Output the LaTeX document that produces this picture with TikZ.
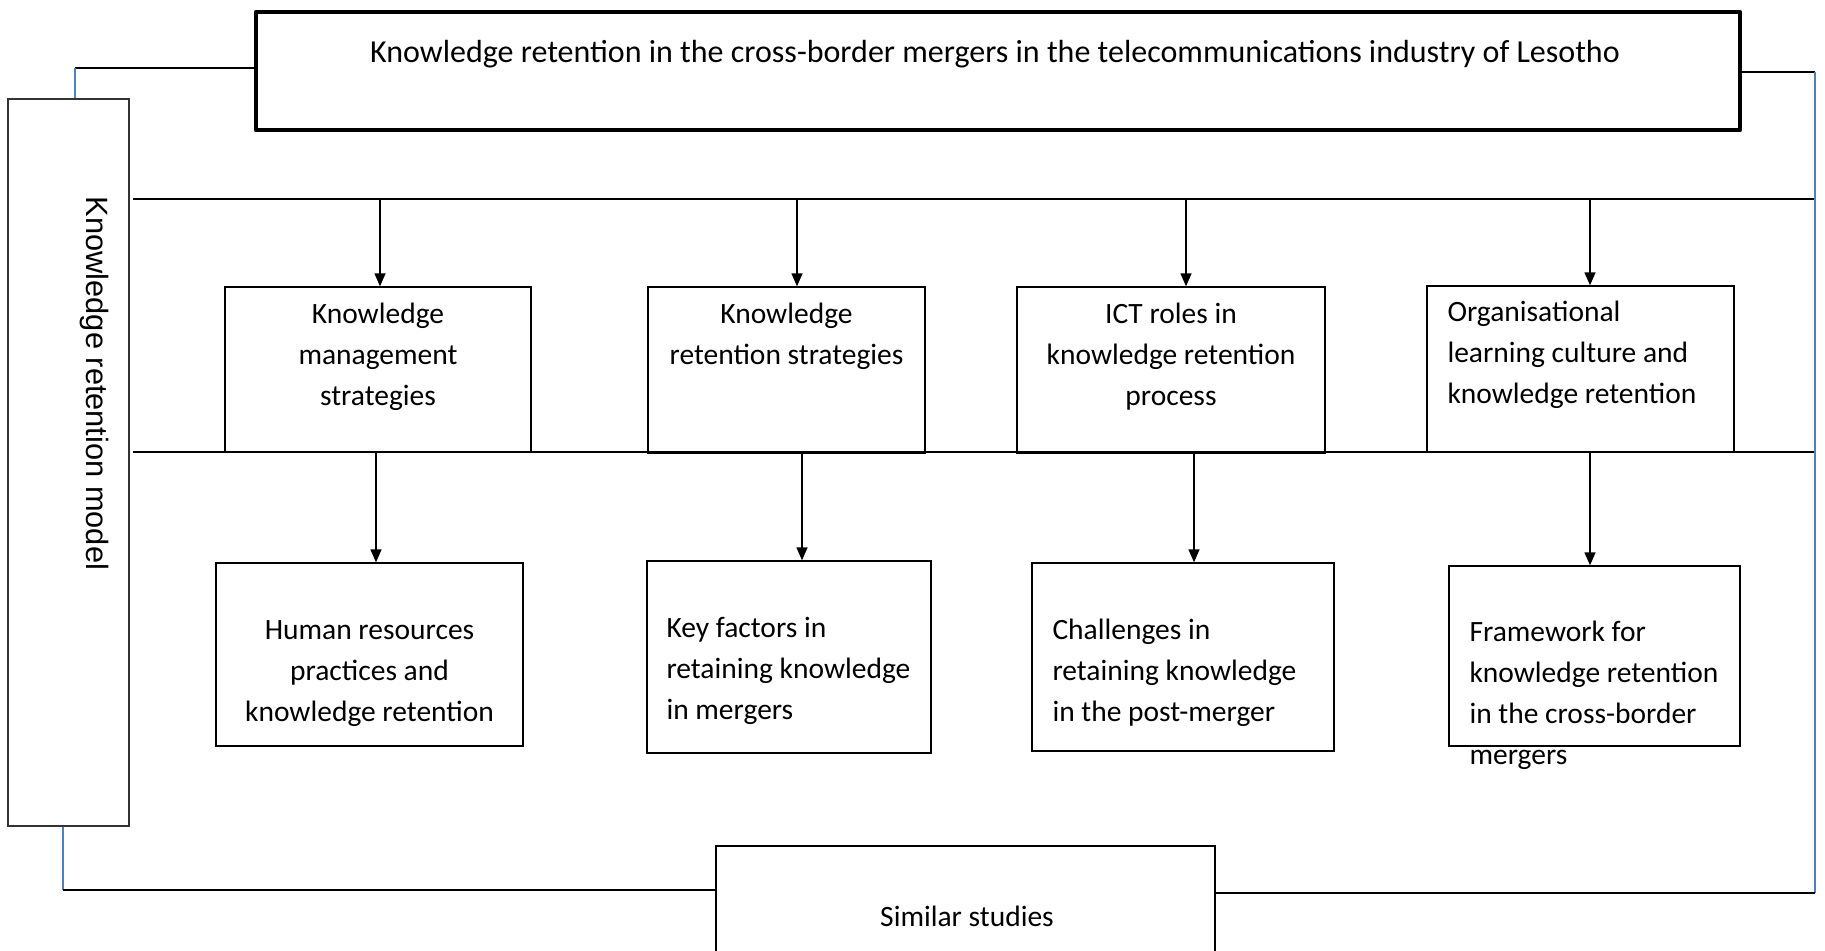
\documentclass[tikz,border=0pt]{standalone}
\usepackage{fontspec}
\setmainfont{Carlito}
\newfontfamily\sidefont{Liberation Sans}
\usetikzlibrary{arrows.meta,positioning}
\definecolor{linkblue}{RGB}{79,129,189}
\tikzset{
  box/.style={draw,line width=1.4pt,inner sep=0pt},
  txt/.style={font=\fontsize{29.5}{41}\selectfont,inner sep=0pt},
  bus/.style={line width=1.4pt},
  link/.style={line width=1.5pt,draw=linkblue},
}
\begin{document}
\begin{tikzpicture}[>={Triangle[length=13pt,width=11pt]},x=1pt,y=-1pt]
\useasboundingbox (0,0) rectangle (1825,950);
\clip (0,0) rectangle (1825,950);
% top, side and bottom boxes
\node[box,line width=4.5pt,line join=round,minimum width=1484pt,minimum height=118pt] (title) at (998,71) {};
\node[txt,font=\fontsize{32}{41}\selectfont] (titletxt) at (995,54) {Knowledge retention in the cross-border mergers in the telecommunications industry of Lesotho};
\node[box,draw=black!80,minimum width=121pt,minimum height=727pt] (krm) at (68.5,462.5) {};
\node[txt,font=\sidefont\fontsize{30.8}{41}\selectfont,rotate=-90] (krmtxt) at (94,383.5) {Knowledge retention model};
\node[box,minimum width=499pt,minimum height=144pt] (sim) at (965.5,918) {};
\node[txt] (simtxt) at (967,916) {Similar studies};
% first row
\node[box,minimum width=306pt,minimum height=165pt] (kms) at (378,369.5) {};
\node[box,minimum width=277pt,minimum height=166pt] (krs) at (786.5,370) {};
\node[box,minimum width=308pt,minimum height=166pt] (ict) at (1171,370) {};
\node[box,minimum width=307pt,minimum height=166pt] (olc) at (1580.5,369) {};
\node[txt,align=center,below=17pt of kms.north] (kmstxt) {Knowledge\\management\\strategies};
\node[txt,align=center,below=17pt of krs.north] (krstxt) {Knowledge\\retention strategies};
\node[txt,align=center,below=17pt of ict.north] (icttxt) {ICT roles in\\knowledge retention\\process};
\node[txt,align=left,below right=16pt and 21pt of olc.north west] (olctxt) {Organisational\\learning culture and\\knowledge retention};
% second row
\node[box,minimum width=307pt,minimum height=183pt] (hrp) at (369.5,654.5) {};
\node[box,minimum width=284pt,minimum height=192pt] (kfr) at (789,657) {};
\node[box,minimum width=302pt,minimum height=188pt] (crk) at (1183,657) {};
\node[box,minimum width=291pt,minimum height=180pt] (fkr) at (1594.5,656) {};
\node[txt,align=center,below=58pt of hrp.north] (hrptxt) {Human resources\\practices and\\knowledge retention};
\node[txt,align=left,below right=57pt and 20pt of kfr.north west] (kfrtxt) {Key factors in\\retaining knowledge\\in mergers};
\node[txt,align=left,below right=57pt and 21pt of crk.north west] (crktxt) {Challenges in\\retaining knowledge\\in the post-merger};
\node[txt,align=left,below right=56pt and 21pt of fkr.north west] (fkrtxt) {Framework for\\knowledge retention\\in the cross-border\\mergers};
% bus lines and arrows
\coordinate (ul) at (133,199); \coordinate (ur) at (1815,199);
\coordinate (ll) at (133,452); \coordinate (lr) at (1815,452);
\draw[bus] (ul) -- (ur);
\draw[bus] (ll) -- (lr);
\foreach \x/\b in {380/kms,797/krs,1186/ict,1590/olc}
  \draw[bus,->] (\x,199) -- (\x,199 |- \b.north);
\foreach \x/\b in {376/hrp,802/kfr,1194/crk,1590/fkr}
  \draw[bus,->] (\x,452) -- (\x,452 |- \b.north);
% outer connectors
\coordinate (tl) at (75,68);
\coordinate (tr) at (1815,72);
\coordinate (br) at (1815,893);
\coordinate (bl) at (63,890);
\draw[bus] (title.west |- tl) -- (tl);
\draw[link] (tl) -- (tl |- krm.north);
\draw[bus] (title.east |- tr) -- (tr);
\draw[link] (tr) -- (br);
\draw[bus] (br) -- (sim.east |- br);
\draw[link] (bl |- krm.south) -- (bl);
\draw[bus] (bl) -- (sim.west |- bl);
\end{tikzpicture}
\end{document}
